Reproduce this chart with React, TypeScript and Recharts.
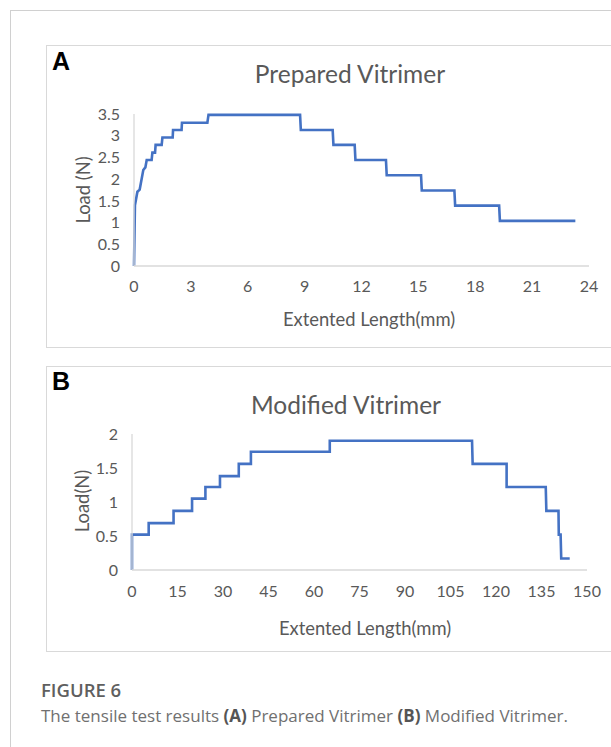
import { Line, LineChart, XAxis, YAxis } from "recharts";

// Prepared vitrimer (A): extension (mm) and load (N), corner points of the trace
const prepExt = [
  0, 0.05, 0.18, 0.3, 0.49, 0.6, 0.67, 0.93, 0.97, 1.11, 1.14, 1.46, 1.5, 2.04, 2.06, 2.51, 2.53,
  3.87, 3.93, 8.76, 8.8, 10.48, 10.52, 11.64, 11.68, 13.29, 13.33, 15.14, 15.18, 16.9, 16.94,
  19.26, 19.3, 23.28,
];
const prepLoad = [
  0, 1.4, 1.71, 1.76, 2.21, 2.27, 2.44, 2.44, 2.61, 2.61, 2.79, 2.79, 2.96, 2.96, 3.13, 3.13, 3.3,
  3.3, 3.48, 3.48, 3.13, 3.13, 2.79, 2.79, 2.44, 2.44, 2.09, 2.09, 1.74, 1.74, 1.39, 1.39, 1.04,
  1.04,
];

// Modified vitrimer (B)
const modExt = [
  0, 0, 5.5, 5.5, 13.7, 13.7, 19.8, 19.8, 24.2, 24.2, 29, 29, 35.2, 35.2, 39.2, 39.2, 65.2, 65.2,
  112.1, 112.3, 123.5, 123.5, 136.4, 136.6, 140.6, 140.7, 141.3, 141.5, 144.3,
];
const modLoad = [
  0, 0.52, 0.52, 0.69, 0.69, 0.87, 0.87, 1.05, 1.05, 1.22, 1.22, 1.38, 1.38, 1.56, 1.56, 1.74,
  1.74, 1.9, 1.9, 1.56, 1.56, 1.22, 1.22, 0.87, 0.87, 0.52, 0.52, 0.17, 0.17,
];

const prepXTicks = [0, 3, 6, 9, 12, 15, 18, 21, 24];
const prepYTicks = [0, 0.5, 1, 1.5, 2, 2.5, 3, 3.5];
const modXTicks = [0, 15, 30, 45, 60, 75, 90, 105, 120, 135, 150];
const modYTicks = [0, 0.5, 1, 1.5, 2];

const prepRows = prepExt.map((ext, i) => ({ ext, load: prepLoad[i] }));
const modRows = modExt.map((ext, i) => ({ ext, load: modLoad[i] }));

const FONT = "Lato, 'Noto Sans', sans-serif";
const TICK = { fill: "#595959", fontSize: 16, fontFamily: FONT };
const AXIS = { stroke: "#d9d9d9", strokeWidth: 1.3 };
const BLUE = "#4472c4";

type PanelProps = {
  top: number;
  height: number;
  plotTop: number;
  yWidth: number;
  rightGap: number;
  rows: { ext: number; load: number }[];
  xTicks: number[];
  yTicks: number[];
  xTickGap: number;
};

const last = (t: number[]) => t[t.length - 1];

function Panel(p: PanelProps) {
  return (
    <div style={{ position: "absolute", left: 46, top: p.top }}>
      <LineChart
        width={565}
        height={p.height}
        data={p.rows}
        margin={{ top: p.plotTop, right: p.rightGap, bottom: 0, left: 0 }}
      >
        <XAxis
          dataKey="ext"
          type="number"
          domain={[p.xTicks[0], last(p.xTicks)]}
          ticks={p.xTicks}
          interval={0}
          height={81}
          tickLine={false}
          tickSize={0}
          tickMargin={p.xTickGap}
          axisLine={AXIS}
          tick={TICK}
        />
        <YAxis
          type="number"
          domain={[0, last(p.yTicks)]}
          ticks={p.yTicks}
          interval={0}
          width={p.yWidth}
          tickLine={false}
          tickSize={0}
          tickMargin={14}
          axisLine={AXIS}
          tick={TICK}
        />
        <Line
          dataKey="load"
          type="linear"
          stroke={BLUE}
          strokeWidth={2.6}
          dot={false}
          activeDot={false}
          isAnimationActive={false}
        />
      </LineChart>
    </div>
  );
}

export default function App() {
  const box = { position: "absolute" as const, border: "1px solid #d9d9d9", background: "#fff" };
  return (
    <div style={{ position: "absolute", left: 0, top: 0, width: 611, height: 747, overflow: "hidden", background: "#fff" }}>
      <div style={{ position: "absolute", left: 10, top: 10, width: 640, height: 800, border: "1px solid #d0d0d0" }} />
      <div style={{ ...box, left: 46, top: 45, width: 600, height: 301 }} />
      <div style={{ ...box, left: 46, top: 366, width: 600, height: 284 }} />

      <Panel
        top={45}
        height={302}
        plotTop={69}
        yWidth={88}
        rightGap={22}
        rows={prepRows}
        xTicks={prepXTicks}
        yTicks={prepYTicks}
        xTickGap={15}
      />
      <Panel
        top={366}
        height={285}
        plotTop={68}
        yWidth={86}
        rightGap={24}
        rows={modRows}
        xTicks={modXTicks}
        yTicks={modYTicks}
        xTickGap={16}
      />

      <svg width={611} height={747} style={{ position: "absolute", left: 0, top: 0, pointerEvents: "none" }}>
        <g fontFamily="'Liberation Sans', Arial, sans-serif" fontWeight="bold" fontSize={25} fill="#000">
          <text x={52} y={70}>A</text>
          <text x={52} y={390}>B</text>
        </g>
        <g fontFamily={FONT} fill="#595959" textAnchor="middle">
          <text x={350} y={83} fontSize={24.5}>Prepared Vitrimer</text>
          <text x={346} y={414} fontSize={24.5}>Modified Vitrimer</text>
          <text x={369} y={326} fontSize={18.4}>Extented Length(mm)</text>
          <text x={365} y={635} fontSize={18.4}>Extented Length(mm)</text>
          <text transform="translate(90 190) rotate(-90)" fontSize={18.4}>Load (N)</text>
          <text transform="translate(89 501) rotate(-90)" fontSize={18.4}>Load(N)</text>
        </g>
        <g fontFamily="'Open Sans', sans-serif">
          <text x={41} y={697} fontSize={18.5} fontWeight={600} fill="#5f5f5f">FIGURE 6</text>
          <text x={41} y={722} fontSize={17} fill="#707070">
            The tensile test results <tspan fontWeight={700} fill="#555">(A)</tspan> Prepared Vitrimer{" "}
            <tspan fontWeight={700} fill="#555">(B)</tspan> Modified Vitrimer.
          </text>
        </g>
      </svg>
    </div>
  );
}
